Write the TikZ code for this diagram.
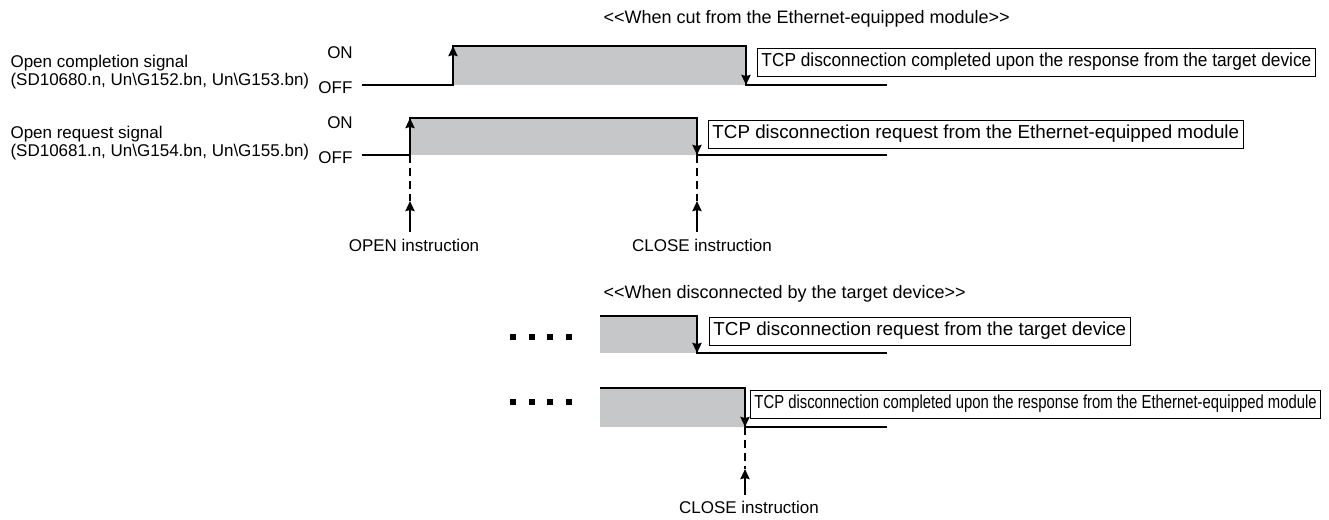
\documentclass[tikz,border=0pt]{standalone}
\usepackage{fontspec}
\setmainfont{Liberation Sans}
\usetikzlibrary{arrows.meta,positioning}

\definecolor{sigfill}{RGB}{198,199,201}

\tikzset{
  sig/.style={line width=2.8pt,line join=miter},
  edgetip/.style={line width=2.8pt,-{Stealth[length=10pt,width=9pt,inset=1pt]}},
  trig/.style={line width=2.8pt,dash pattern=on 8pt off 5pt},
  msgbox/.style={draw,line width=0.9pt,fill=white,inner xsep=4pt,inner ysep=2pt,minimum height=28pt,anchor=west,font=\fontsize{18.8}{22}\selectfont},
  txt/.style={font=\fontsize{17}{20}\selectfont},
  ttl/.style={font=\fontsize{18}{21}\selectfont}
}

\begin{document}
\begin{tikzpicture}[x=1pt,y=-1pt]
\useasboundingbox (0,0) rectangle (1329,519);

% Titles
\node[ttl,anchor=west] (ttlA) at (600,19) {<{}<When cut from the Ethernet-equipped module>{}>};
\node[ttl,anchor=west] (ttlB) at (600,294) {<{}<When disconnected by the target device>{}>};

% Signal names
\node[txt,anchor=west] (nameA) at (7,63) {Open completion signal};
\node[txt,anchor=west] (devA) at (7,81) {(SD10680.n, Un\textbackslash G152.bn, Un\textbackslash G153.bn)};
\node[txt,anchor=west] (nameB) at (7,134) {Open request signal};
\node[txt,anchor=west] (devB) at (7,152) {(SD10681.n, Un\textbackslash G154.bn, Un\textbackslash G155.bn)};
\node[txt] (onA) at (340,53) {ON};
\node[txt,anchor=east] (offA) at (356,88) {OFF};
\node[txt] (onB) at (340,123) {ON};
\node[txt,anchor=east] (offB) at (356,158) {OFF};

% Open completion signal
\coordinate (a0) at (362,85);
\coordinate (a1) at (453,85);
\coordinate (a2) at (453,46);
\coordinate (a3) at (746,46);
\coordinate (a4) at (746,85);
\coordinate (a5) at (887,85);
\fill[sigfill] (a1) rectangle (a3);
\draw[sig] (a0) -- (a1) -- (a2) -- (a3) -- (a4) -- (a5);
\draw[edgetip] (a1) -- (a2);
\draw[edgetip] (a3) -- (a4);

% Open request signal
\coordinate (b0) at (362,155);
\coordinate (b1) at (410,155);
\coordinate (b2) at (410,118);
\coordinate (b3) at (697,118);
\coordinate (b4) at (697,155);
\coordinate (b5) at (887,155);
\fill[sigfill] (b1) rectangle (b3);
\draw[sig] (b0) -- (b1) -- (b2) -- (b3) -- (b4) -- (b5);
\draw[edgetip] (b1) -- (b2);
\draw[edgetip] (b3) -- (b4);

% Instructions
\coordinate (openT) at (410,201);
\coordinate (openB) at (410,232);
\coordinate (closeT) at (697,201);
\coordinate (closeB) at (697,232);
\draw[trig] (b1) -- (openT);
\draw[trig] (b4) -- (closeT);
\draw[edgetip] (openB) -- (openT);
\draw[edgetip] (closeB) -- (closeT);
\node[txt] (openI) at (414,245) {OPEN instruction};
\node[txt] (closeI) at (702,245) {CLOSE instruction};

% Target device side
\coordinate (c0) at (600,316);
\coordinate (c1) at (697,316);
\coordinate (c2) at (697,353);
\coordinate (c3) at (887,353);
\fill[sigfill] (c0) rectangle (c2);
\draw[sig] (c0) -- (c1) -- (c2) -- (c3);
\draw[edgetip] (c1) -- (c2);

\coordinate (d0) at (600,388);
\coordinate (d1) at (745,388);
\coordinate (d2) at (745,427);
\coordinate (d3) at (887,427);
\fill[sigfill] (d0) rectangle (d2);
\draw[sig] (d0) -- (d1) -- (d2) -- (d3);
\draw[edgetip] (d1) -- (d2);

% Dots
\foreach \x in {513,532,550,569}
{
  \fill (\x-3,334) rectangle (\x+3,340);
  \fill (\x-3,399) rectangle (\x+3,405);
}

\coordinate (closeT2) at (745,469);
\coordinate (closeB2) at (745,495);
\draw[trig] (d2) -- (closeT2);
\draw[edgetip] (closeB2) -- (closeT2);
\node[txt] (closeI2) at (749,507) {CLOSE instruction};

% Message boxes
\node[msgbox] (boxA) at (757,62) {\scalebox{0.92}[1]{TCP disconnection completed upon the response from the target device}};
\node[msgbox] (boxB) at (708,134) {TCP disconnection request from the Ethernet-equipped module};
\node[msgbox] (boxC) at (709,331) {TCP disconnection request from the target device};
\node[msgbox] (boxD) at (750,404) {\scalebox{0.79}[1]{TCP disconnection completed upon the response from the Ethernet-equipped module}};
\end{tikzpicture}
\end{document}
